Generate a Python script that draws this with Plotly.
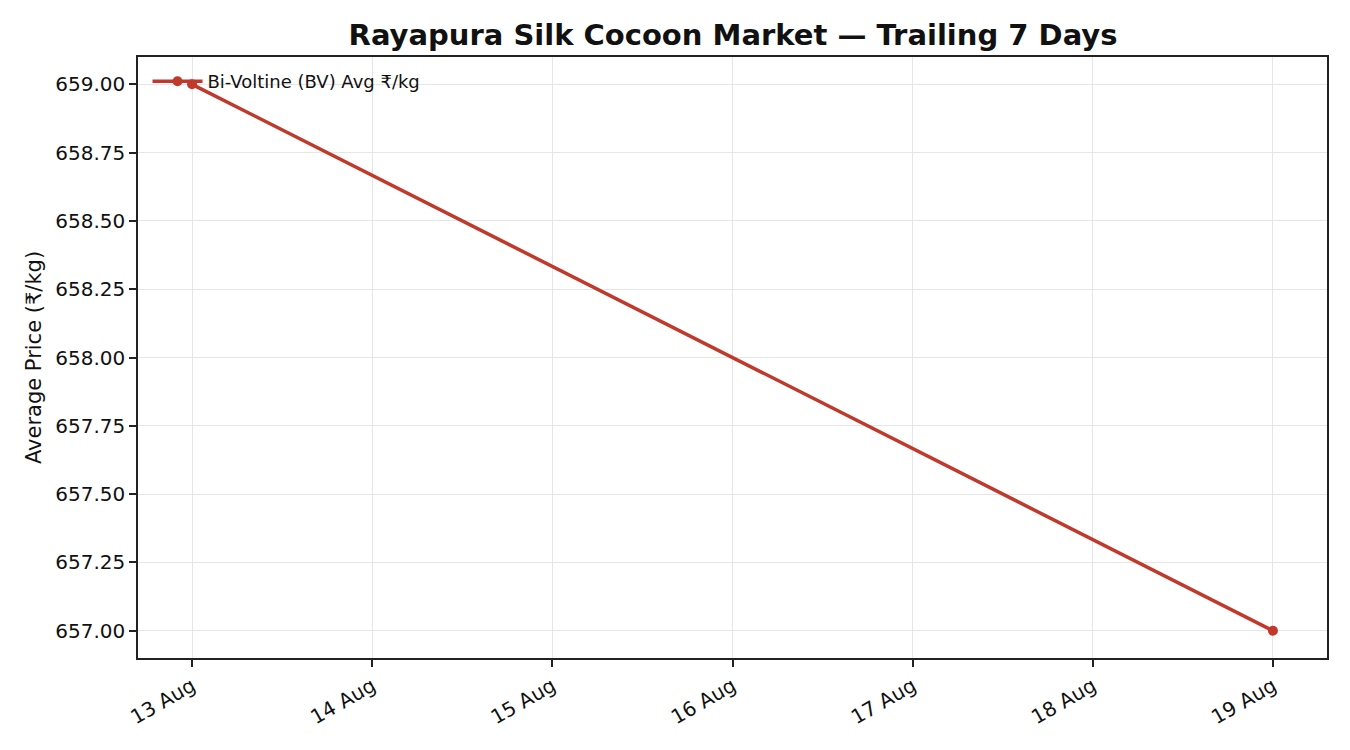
import plotly.graph_objects as go

dates = ["2024-08-13", "2024-08-19"]
prices = [659.00, 657.00]
tick_dates = ["2024-08-13", "2024-08-14", "2024-08-15", "2024-08-16", "2024-08-17", "2024-08-18", "2024-08-19"]
tick_labels = ["13 Aug", "14 Aug", "15 Aug", "16 Aug", "17 Aug", "18 Aug", "19 Aug"]
y_ticks = [657.00, 657.25, 657.50, 657.75, 658.00, 658.25, 658.50, 658.75, 659.00]

color = "#c0392b"
font = "DejaVu Sans, Verdana, sans-serif"

fig = go.Figure()
fig.add_trace(go.Scatter(
    x=dates, y=prices, mode="lines+markers",
    name="Bi-Voltine (BV) Avg ₹/kg",
    line=dict(color=color, width=3.5),
    marker=dict(color=color, size=10),
))

fig.update_layout(
    width=1334, height=734,
    paper_bgcolor="white", plot_bgcolor="white",
    margin=dict(l=130, r=15, t=49, b=84),
    font=dict(family=font, size=20, color="#111"),
    title=dict(text="<b>Rayapura Silk Cocoon Market — Trailing 7 Days</b>",
               x=0.5435, xanchor="center", y=0.963, yanchor="middle",
               font=dict(size=29, color="#111")),
    showlegend=True,
    legend=dict(x=0.008, y=0.99, xanchor="left", yanchor="top",
                itemwidth=50,
                bgcolor="rgba(255,255,255,0)", borderwidth=0,
                font=dict(size=18, color="#111")),
)
fig.update_xaxes(
    type="date",
    range=["2024-08-12 16:48", "2024-08-19 07:12"],
    tickvals=tick_dates, ticktext=tick_labels, tickangle=-30,
    showgrid=True, gridcolor="#e6e6e6", gridwidth=1,
    showline=True, linecolor="#222", linewidth=1.5, mirror=True,
    ticks="outside", ticklen=7, tickcolor="#222", tickwidth=1.5,
    zeroline=False,
)
fig.update_yaxes(
    range=[656.9, 659.1],
    tickvals=y_ticks, tickformat=".2f",
    title=dict(text="Average Price (₹/kg)", font=dict(size=21), standoff=8),
    showgrid=True, gridcolor="#e6e6e6", gridwidth=1,
    showline=True, linecolor="#222", linewidth=1.5, mirror=True,
    ticks="outside", ticklen=7, tickcolor="#222", tickwidth=1.5,
    zeroline=False,
)

fig.write_html("out.html")
